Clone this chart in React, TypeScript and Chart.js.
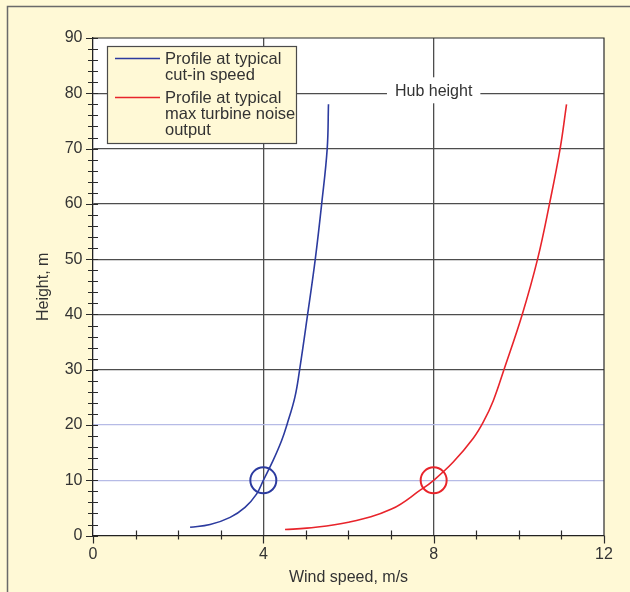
import React, { useEffect, useRef } from "react";
import { Chart, registerables } from "chart.js";

Chart.register(...registerables);

const FONT = '"Liberation Sans", Arial, Helvetica, sans-serif';
const CREAM = "#fff9d6";
const BLUE = "#2c3b9f";
const RED = "#e8242b";

// Axis ticks and labels
const xLabelTicks = [0, 4, 8, 12];
const yLabelTicks = [0, 10, 20, 30, 40, 50, 60, 70, 80, 90];
const xGridDark = [4, 8];
const yGridDark = [30, 40, 50, 60, 70, 80];
const yGridLight = [10, 20];

// Series: wind speed (m/s) vs height (m)
const cutInSpeed = [2.28, 2.75, 3.22, 3.57, 3.84, 4.0, 4.23, 4.43, 4.56, 4.74, 4.85, 5.04, 5.22, 5.37, 5.5, 5.53];
const cutInHeight = [1.5, 2.0, 3.3, 5.1, 7.5, 10.0, 13.6, 17.2, 20.2, 25.0, 29.9, 40, 50, 60, 70, 78];
const noiseSpeed = [4.51, 5.02, 6.0, 7.01, 7.7, 8.0, 8.46, 8.93, 9.17, 9.4, 9.65, 10.08, 10.44, 10.72, 10.97, 11.12];
const noiseHeight = [1.1, 1.35, 2.4, 4.8, 8.3, 10.0, 13.3, 17.6, 20.6, 24.4, 30, 40, 50, 60, 70, 78];

// Reference markers at 10 m
const markerHeight = 10;
const cutInMarkerSpeed = 4;
const noiseMarkerSpeed = 8;

const hubHeight = 80;
const hubLabel = "Hub height";
const hubLabelSpeed = 8;

const legendItems = [
  { color: BLUE, lines: ["Profile at typical", "cut-in speed"] },
  { color: RED, lines: ["Profile at typical", "max turbine noise", "output"] },
];

const decorPlugin = {
  id: "decor",
  beforeDraw(chart: any) {
    const { ctx, chartArea: a, width, height } = chart;
    ctx.save();
    ctx.fillStyle = CREAM;
    ctx.fillRect(0, 0, width, height);
    ctx.strokeStyle = "#6a6a6a";
    ctx.lineWidth = 1.5;
    ctx.beginPath();
    ctx.moveTo(7.5, height);
    ctx.lineTo(7.5, 6.5);
    ctx.lineTo(width, 6.5);
    ctx.stroke();
    ctx.fillStyle = "#ffffff";
    ctx.fillRect(a.left, a.top, a.right - a.left, a.bottom - a.top);
    ctx.restore();
  },
  beforeDatasetsDraw(chart: any) {
    const { ctx, chartArea: a } = chart;
    const xs = chart.scales.x;
    const ys = chart.scales.y;
    ctx.save();
    // top & right frame of plot
    ctx.strokeStyle = "#2a2a2a";
    ctx.lineWidth = 1.2;
    ctx.beginPath();
    ctx.moveTo(a.left, a.top);
    ctx.lineTo(a.right, a.top);
    ctx.lineTo(a.right, a.bottom);
    ctx.stroke();
    // ticks
    ctx.beginPath();
    ys.ticks.forEach((t: any) => {
      const y = Math.round(ys.getPixelForValue(t.value)) + 0.5;
      const major = t.value % 10 === 0;
      ctx.moveTo(a.left - (major ? 7 : 5), y);
      ctx.lineTo(a.left + 5, y);
    });
    xs.ticks.forEach((t: any) => {
      const x = Math.round(xs.getPixelForValue(t.value)) + 0.5;
      const major = t.value % 4 === 0;
      if (major) {
        ctx.moveTo(x, a.bottom);
        ctx.lineTo(x, a.bottom + 8);
      } else {
        ctx.moveTo(x, a.bottom - 5);
        ctx.lineTo(x, a.bottom + 4);
      }
    });
    ctx.stroke();
    // hub height label
    ctx.font = `16px ${FONT}`;
    const tw = ctx.measureText(hubLabel).width;
    const cx = xs.getPixelForValue(hubLabelSpeed);
    const cy = ys.getPixelForValue(hubHeight);
    ctx.fillStyle = "#ffffff";
    ctx.fillRect(cx - tw / 2 - 8, cy - 16, tw + 16, 26);
    ctx.fillStyle = "#333333";
    ctx.textAlign = "center";
    ctx.textBaseline = "middle";
    ctx.fillText(hubLabel, cx, cy - 2);
    ctx.restore();
  },
  afterDatasetsDraw(chart: any) {
    const { ctx, chartArea: a } = chart;
    ctx.save();
    const left = a.left + 14;
    const top = a.top + 8;
    const w = 189;
    const h = 97;
    ctx.fillStyle = CREAM;
    ctx.fillRect(left, top, w, h);
    ctx.strokeStyle = "#4a4a4a";
    ctx.lineWidth = 1.2;
    ctx.strokeRect(left + 0.5, top + 0.5, w, h);
    ctx.font = `16.5px ${FONT}`;
    ctx.textAlign = "left";
    ctx.textBaseline = "middle";
    let y = top + 13.5;
    legendItems.forEach((item) => {
      ctx.strokeStyle = item.color;
      ctx.lineWidth = 1.4;
      ctx.beginPath();
      ctx.moveTo(left + 8, y - 1);
      ctx.lineTo(left + 53, y - 1);
      ctx.stroke();
      ctx.fillStyle = "#333333";
      item.lines.forEach((ln, j) => {
        ctx.fillText(ln, left + 58, y + j * 16);
      });
      y += item.lines.length * 16 + 7;
    });
    ctx.restore();
  },
};

export default function App() {
  const ref = useRef<HTMLCanvasElement>(null);
  useEffect(() => {
    const canvas = ref.current;
    if (!canvas) return;
    const chart = new Chart(canvas, {
      type: "scatter",
      data: {
        datasets: [
          {
            label: "Profile at typical cut-in speed",
            data: cutInSpeed.map((x, i) => ({ x, y: cutInHeight[i] })),
            showLine: true,
            borderColor: BLUE,
            borderWidth: 1.6,
            pointRadius: 0,
            tension: 0.4,
            fill: false,
          },
          {
            label: "Profile at typical max turbine noise output",
            data: noiseSpeed.map((x, i) => ({ x, y: noiseHeight[i] })),
            showLine: true,
            borderColor: RED,
            borderWidth: 1.6,
            pointRadius: 0,
            tension: 0.4,
            fill: false,
          },
          {
            label: "cut-in marker",
            data: [{ x: cutInMarkerSpeed, y: markerHeight }],
            showLine: false,
            pointRadius: 13,
            pointBorderWidth: 2,
            pointBorderColor: BLUE,
            pointBackgroundColor: "rgba(0,0,0,0)",
          },
          {
            label: "noise marker",
            data: [{ x: noiseMarkerSpeed, y: markerHeight }],
            showLine: false,
            pointRadius: 13,
            pointBorderWidth: 2,
            pointBorderColor: RED,
            pointBackgroundColor: "rgba(0,0,0,0)",
          },
        ],
      },
      options: {
        responsive: false,
        animation: false,
        layout: { padding: { left: 34, top: 38, right: 26, bottom: 5 } },
        plugins: { legend: { display: false }, tooltip: { enabled: false } },
        scales: {
          x: {
            type: "linear",
            min: 0,
            max: 12,
            ticks: {
              stepSize: 1,
              autoSkip: false,
              maxRotation: 0,
              padding: 9,
              color: "#333333",
              font: { size: 16, family: FONT },
              callback: (v: any) => (xLabelTicks.includes(Number(v)) ? String(v) : ""),
            },
            grid: {
              drawTicks: false,
              tickLength: 0,
              lineWidth: 1.3,
              color: (c: any) =>
                c.tick && xGridDark.includes(c.tick.value) ? "#4d4d4d" : "rgba(0,0,0,0)",
            },
            border: { display: true, color: "#222222", width: 1.3 },
            title: {
              display: true,
              text: "Wind speed, m/s",
              color: "#333333",
              font: { size: 16, family: FONT },
              padding: { top: -5, bottom: 0 },
            },
          },
          y: {
            type: "linear",
            min: 0,
            max: 90,
            ticks: {
              stepSize: 2,
              autoSkip: false,
              padding: 10.5,
              color: "#333333",
              font: { size: 16, family: FONT },
              callback: (v: any) => (yLabelTicks.includes(Number(v)) ? String(v) : ""),
            },
            grid: {
              drawTicks: false,
              tickLength: 0,
              lineWidth: 1.3,
              color: (c: any) => {
                if (!c.tick) return "rgba(0,0,0,0)";
                if (yGridDark.includes(c.tick.value)) return "#4d4d4d";
                if (yGridLight.includes(c.tick.value)) return "#b6bbe6";
                return "rgba(0,0,0,0)";
              },
            },
            border: { display: true, color: "#222222", width: 1.3 },
            title: {
              display: true,
              text: "Height, m",
              color: "#333333",
              font: { size: 16, family: FONT },
              padding: { top: 0, bottom: 1 },
            },
          },
        },
      },
      plugins: [decorPlugin],
    } as any);
    return () => chart.destroy();
  }, []);
  return (
    <div style={{ position: "fixed", left: 0, top: 0, width: 630, height: 592 }}>
      <canvas ref={ref} width={630} height={592} style={{ display: "block", width: 630, height: 592 }} />
    </div>
  );
}
